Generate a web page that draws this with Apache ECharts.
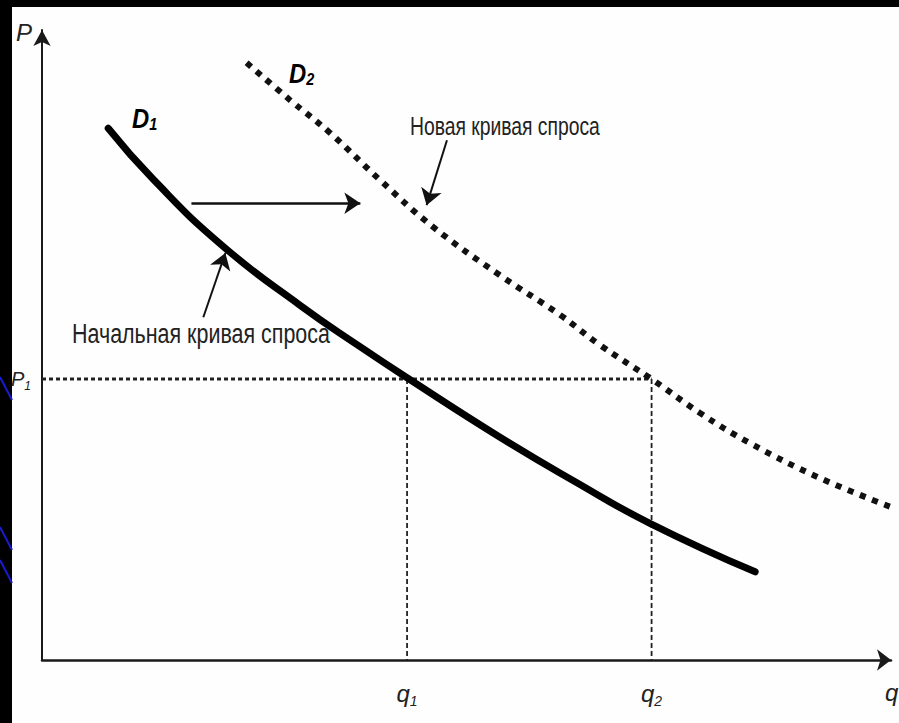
<!DOCTYPE html>
<html><head><meta charset="utf-8">
<script src="https://cdn.jsdelivr.net/npm/echarts@6/dist/echarts.min.js"></script>
<style>html,body{margin:0;padding:0;background:#000}#c{width:899px;height:723px}</style>
</head><body><div id="c"></div>
<script>
// Demand curves (Q on x, P on y)
const d1X = [0.78, 1.31, 2.13, 3.04, 3.75, 4.30, 5.39, 6.28, 7.16, 8.40];
const d1Y = [8.44, 7.63, 6.57, 5.63, 4.97, 4.48, 3.54, 2.83, 2.17, 1.40];
const d2X = [2.41, 2.92, 3.39, 3.98, 4.61, 5.39, 6.10, 6.57, 7.18, 7.75, 8.34, 9.16, 10.09];
const d2Y = [9.48, 8.89, 8.37, 7.62, 6.87, 6.11, 5.48, 5.00, 4.46, 3.92, 3.44, 2.89, 2.38];
// reference levels
const P1 = 4.46, q1 = 4.30, q2 = 7.18;
const xTickValues = [q1, q2];
const xTickNames = ['q1', 'q2'];
const yTickValues = [P1];
const yTickNames = ['P1'];
// arrows: shift arrow and two pointer arrows [[x1,y1],[x2,y2]]
const shiftArrow = [[1.76, 7.25], [3.75, 7.25]];
const pointerNew = [[4.77, 8.25], [4.53, 7.22]];
const pointerOld = [[1.90, 5.44], [2.16, 6.46]];
const curveNames = ['D1', 'D2'];
const noteNew = 'Новая кривая спроса';
const noteOld = 'Начальная кривая спроса';

const LFONT = '"Liberation Sans", Arial, sans-serif';
const zip = (a, b) => a.map((v, i) => [v, b[i]]);
function sub(name) { return '{b|' + name[0] + '}{s|' + name.slice(1) + '}'; }
const labelRich = {
  b: { fontFamily: LFONT, fontStyle: 'italic', fontSize: 24, color: '#222', lineHeight: 30 },
  s: { fontFamily: LFONT, fontStyle: 'italic', fontSize: 14, color: '#222', lineHeight: 14, verticalAlign: 'bottom' }
};
const yRich = {
  b: { fontFamily: LFONT, fontStyle: 'italic', fontSize: 20, color: '#222', lineHeight: 26 },
  s: { fontFamily: LFONT, fontStyle: 'italic', fontSize: 12, color: '#222', lineHeight: 12, verticalAlign: 'bottom' }
};
const dRich = {
  b: { fontFamily: LFONT, fontStyle: 'italic', fontWeight: 'bold', fontSize: 28, color: '#111', lineHeight: 30 },
  s: { fontFamily: LFONT, fontStyle: 'italic', fontWeight: 'bold', fontSize: 17, color: '#111', lineHeight: 14, verticalAlign: 'bottom' }
};
function pick(vals, names, v) {
  let best = 0;
  vals.forEach((x, i) => { if (Math.abs(x - v) < Math.abs(vals[best] - v)) best = i; });
  return sub(names[best]);
}
const mctx = document.createElement('canvas').getContext('2d');
function fitScale(text, font, target) {
  mctx.font = font;
  const w = mctx.measureText(text).width;
  return w > 0 ? target / w : 1;
}
const fontNew = '25px ' + LFONT, fontOld = '27px ' + LFONT;
const sNew = fitScale(noteNew, fontNew, 190);
const sOld = fitScale(noteOld, fontOld, 258);

const chart = echarts.init(document.getElementById('c'), null, { renderer: 'svg' });
chart.setOption({
  backgroundColor: '#000',
  animation: false,
  grid: { left: 42, right: 8, top: 30, bottom: 63, outerBoundsMode: 'none' },
  graphic: [
    { type: 'rect', z: -100, shape: { x: 12, y: 7, width: 887, height: 716 }, style: { fill: '#fefefe' } },
    { type: 'line', z: -100, shape: { x1: 0, y1: 377, x2: 12, y2: 400 }, style: { stroke: '#1a1ad0', lineWidth: 2 } },
    { type: 'line', z: -100, shape: { x1: 0, y1: 527, x2: 12, y2: 550 }, style: { stroke: '#1a1ad0', lineWidth: 2 } },
    { type: 'line', z: -100, shape: { x1: 0, y1: 560, x2: 12, y2: 583 }, style: { stroke: '#1a1ad0', lineWidth: 2 } },
    { type: 'text', z: 10, x: 132, y: 103, scaleX: 0.85, style: { text: sub(curveNames[0]), rich: dRich } },
    { type: 'text', z: 10, x: 289, y: 58, scaleX: 0.85, style: { text: sub(curveNames[1]), rich: dRich } },
    { type: 'text', z: 10, x: 410, y: 127, scaleX: sNew, style: { text: noteNew, font: fontNew, fill: '#222', verticalAlign: 'middle' } },
    { type: 'text', z: 10, x: 72, y: 334, scaleX: sOld, style: { text: noteOld, font: fontOld, fill: '#222', verticalAlign: 'middle' } }
  ],
  xAxis: {
    type: 'value', min: 0, max: 10,
    name: 'q', nameLocation: 'end', nameGap: -6,
    nameTextStyle: { fontFamily: LFONT, fontStyle: 'italic', fontSize: 24, color: '#222', verticalAlign: 'top', align: 'left', padding: [20, 0, 0, 0] },
    axisLine: { show: true, symbol: ['none', 'arrow'], symbolSize: [16, 14], lineStyle: { color: '#1a1a1a', width: 2.5 } },
    axisTick: { show: false }, splitLine: { show: false },
    axisLabel: { customValues: xTickValues, margin: 18, formatter: v => pick(xTickValues, xTickNames, v), rich: labelRich }
  },
  yAxis: {
    type: 'value', min: 0, max: 10,
    name: 'P', nameLocation: 'end', nameGap: -2,
    nameTextStyle: { fontFamily: LFONT, fontStyle: 'italic', fontSize: 24, color: '#222', align: 'right', verticalAlign: 'middle', padding: [0, 10, 0, 0] },
    axisLine: { show: true, symbol: ['none', 'arrow'], symbolSize: [13, 16], lineStyle: { color: '#1a1a1a', width: 2 } },
    axisTick: { show: false }, splitLine: { show: false },
    axisLabel: { customValues: yTickValues, margin: 11, formatter: v => pick(yTickValues, yTickNames, v), rich: yRich }
  },
  series: [
    { name: 'P1 level', type: 'line', data: [[0, P1], [q2, P1]], showSymbol: false, silent: true,
      lineStyle: { color: '#222', width: 3, type: [4, 3] }, z: 3 },
    { name: 'q1 level', type: 'line', data: [[q1, P1], [q1, 0]], showSymbol: false, silent: true,
      lineStyle: { color: '#222', width: 1.8, type: [5, 3] }, z: 3 },
    { name: 'q2 level', type: 'line', data: [[q2, P1], [q2, 0]], showSymbol: false, silent: true,
      lineStyle: { color: '#222', width: 1.8, type: [5, 3] }, z: 3 },
    { name: 'D1', type: 'line', data: zip(d1X, d1Y), smooth: 0.5, showSymbol: false,
      lineStyle: { color: '#000', width: 7, cap: 'round' }, z: 5 },
    { name: 'D2', type: 'line', data: zip(d2X, d2Y), smooth: 0.4, showSymbol: false, clip: false,
      lineStyle: { color: '#111', width: 6, type: [6, 7] }, z: 5 },
    { name: 'arrows', type: 'lines', coordinateSystem: 'cartesian2d', silent: true,
      symbol: ['none', 'arrow'], symbolSize: 16,
      lineStyle: { color: '#111', width: 2.5, opacity: 1, curveness: 0 },
      data: [{ coords: shiftArrow }, { coords: pointerNew, lineStyle: { width: 2 } }, { coords: pointerOld, lineStyle: { width: 2 } }], z: 6 }
  ]
});
</script></body></html>
